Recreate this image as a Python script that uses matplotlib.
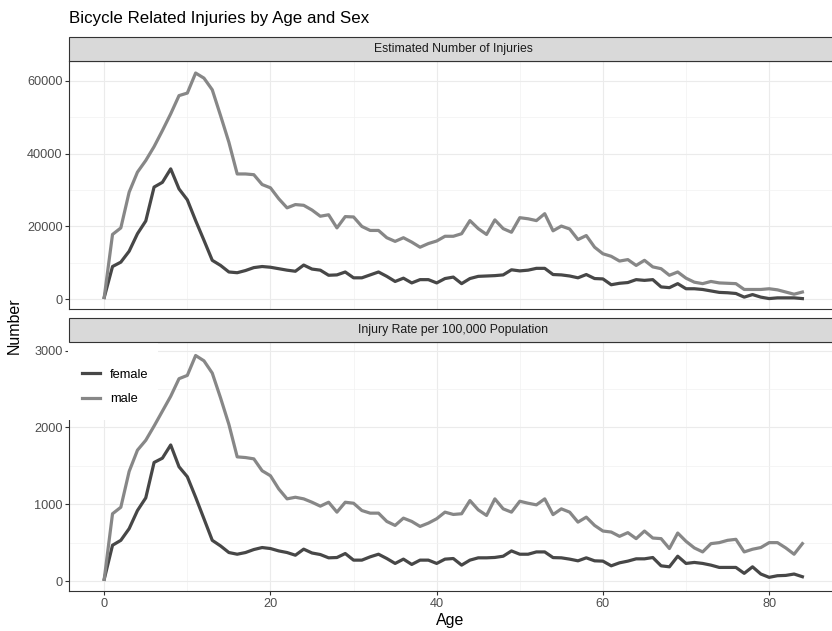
import matplotlib
matplotlib.use("Agg")
import matplotlib.pyplot as plt
from matplotlib.patches import Rectangle
from matplotlib.lines import Line2D
from matplotlib.ticker import MultipleLocator

plt.rcParams['font.family'] = ['Liberation Sans', 'DejaVu Sans']

ages = list(range(0, 85))

number_female = [500, 9000, 10200, 13200, 18000, 21500, 30800, 32100, 35800, 30300,
                 27300, 21600, 16200, 10700, 9300, 7500, 7300, 7900, 8700, 9000,
                 8800, 8400, 8000, 7700, 9400, 8300, 8000, 6600, 6700, 7500,
                 5900, 5900, 6700, 7500, 6300, 4900, 5800, 4500, 5400, 5400,
                 4500, 5700, 6100, 4300, 5700, 6300, 6400, 6500, 6700, 8100,
                 7800, 8000, 8500, 8500, 6800, 6700, 6400, 5900, 6800, 5700,
                 5600, 4000, 4400, 4600, 5400, 5200, 5400, 3400, 3200, 4300,
                 2900, 2900, 2700, 2300, 1900, 1800, 1600, 600, 1300, 600,
                 200, 400, 400, 400, 200]
number_male = [500, 17800, 19600, 29400, 34900, 38100, 41900, 46300, 50900, 55900,
               56600, 62100, 60700, 57500, 50400, 43100, 34400, 34400, 34200, 31500,
               30600, 27600, 25100, 26000, 25800, 24500, 22800, 23200, 19600, 22700,
               22600, 20000, 18900, 18900, 16900, 15900, 16900, 15700, 14300, 15300,
               16000, 17300, 17300, 18000, 21600, 19400, 17800, 21800, 19400, 18400,
               22400, 22100, 21600, 23500, 18800, 20100, 19300, 16400, 17500, 14300,
               12500, 11800, 10500, 10900, 9300, 10700, 8900, 8400, 6600, 7500,
               5800, 4700, 4300, 4900, 4500, 4400, 4300, 2700, 2700, 2700,
               2900, 2600, 2000, 1400, 2000]
rate_female = [22, 466, 530, 682, 918, 1083, 1544, 1600, 1772, 1488,
               1358, 1091, 811, 530, 457, 371, 349, 371, 410, 436,
               423, 392, 371, 336, 415, 365, 345, 302, 306, 358,
               272, 272, 315, 349, 293, 229, 285, 216, 272, 272,
               229, 285, 293, 207, 272, 302, 302, 307, 323, 392,
               349, 349, 379, 379, 305, 302, 285, 263, 302, 263,
               259, 198, 237, 259, 289, 289, 306, 198, 185, 323,
               229, 242, 229, 207, 177, 177, 177, 100, 185, 91,
               48, 69, 73, 91, 56]
rate_male = [22, 876, 961, 1427, 1704, 1833, 2018, 2212, 2406, 2635,
             2678, 2937, 2868, 2708, 2384, 2040, 1617, 1608, 1591, 1436,
             1371, 1199, 1070, 1091, 1070, 1026, 975, 1026, 897, 1026,
             1013, 918, 884, 884, 776, 724, 819, 776, 711, 754,
             811, 897, 867, 876, 1048, 927, 854, 1070, 940, 897,
             1039, 1013, 992, 1070, 865, 940, 897, 767, 832, 724,
             651, 638, 582, 630, 552, 651, 560, 552, 423, 625,
             517, 431, 379, 487, 500, 530, 543, 379, 414, 436,
             500, 500, 431, 349, 487]

title = "Bicycle Related Injuries by Age and Sex"
strip_titles = ["Estimated Number of Injuries", "Injury Rate per 100,000 Population"]
sexes = ["female", "male"]
colors = {"female": "#474747", "male": "#878787"}
x_ticks = [0, 20, 40, 60, 80]
y_ticks_top = [0, 20000, 40000, 60000]
y_ticks_bot = [0, 1000, 2000, 3000]

W, H = 832, 631
fig = plt.figure(figsize=(W / 100, H / 100), dpi=100)
fig.patch.set_facecolor("white")

L, R = 69.3, 837.3
panels = [(61.0, 309.3), (342.3, 591.0)]
strips = [(36.7, 61.0), (318.3, 342.3)]


def make_ax(top, bot):
    return fig.add_axes([L / W, 1 - bot / H, (R - L) / W, (bot - top) / H])


ax1 = make_ax(*panels[0])
ax2 = make_ax(*panels[1])

lw = 2.3
ax1.plot(ages, number_female, color=colors["female"], lw=lw, solid_joinstyle="round", zorder=3)
ax1.plot(ages, number_male, color=colors["male"], lw=lw, solid_joinstyle="round", zorder=3)
ax2.plot(ages, rate_female, color=colors["female"], lw=lw, solid_joinstyle="round", zorder=3)
ax2.plot(ages, rate_male, color=colors["male"], lw=lw, solid_joinstyle="round", zorder=3)

ax1.set_ylim(-2740, 65400)
ax2.set_ylim(-130, 3109)

for ax, yt, minor in [(ax1, y_ticks_top, 10000), (ax2, y_ticks_bot, 500)]:
    ax.set_xlim(-4.2, 88.2)
    ax.set_xticks(x_ticks)
    ax.xaxis.set_minor_locator(MultipleLocator(10))
    ax.set_yticks(yt)
    ax.yaxis.set_minor_locator(MultipleLocator(minor))
    ax.grid(which="major", color="#EBEBEB", lw=0.8, zorder=0)
    ax.grid(which="minor", color="#F2F2F2", lw=0.5, zorder=0)
    ax.set_axisbelow(True)
    for s in ax.spines.values():
        s.set_color("#333333")
        s.set_linewidth(0.8)
    ax.tick_params(which="major", length=2.8, width=0.8, color="#333333",
                   labelsize=9.2, labelcolor="#4D4D4D", pad=2)
    ax.tick_params(which="minor", length=0)
    ax.set_yticklabels([str(v) for v in yt])

ax1.tick_params(axis="x", which="both", bottom=False, labelbottom=False)
ax2.set_xticklabels([str(v) for v in x_ticks])

# strips
for (top, bot), txt in zip(strips, strip_titles):
    fig.patches.append(Rectangle((L / W, 1 - bot / H), (R - L) / W, (bot - top) / H,
                                 transform=fig.transFigure, facecolor="#D9D9D9",
                                 edgecolor="#333333", lw=0.8))
    fig.text((L + R) / 2 / W, 1 - (top + bot) / 2 / H, txt, ha="center", va="center",
             fontsize=8.8, color="#1A1A1A")

# legend background covering panel corner
ax2.add_patch(Rectangle((-0.0012, 0.6876), 0.1167, 0.32, transform=ax2.transAxes,
                        facecolor="white", edgecolor="none", zorder=2.7, clip_on=False))
handles = [Line2D([], [], color=colors[s], lw=lw) for s in sexes]
leg = ax2.legend(handles, sexes, loc="upper left", bbox_to_anchor=(0.0, 0.945),
                 frameon=False, fontsize=9.3, handlelength=1.4, handletextpad=0.75,
                 labelspacing=0.95, borderaxespad=0.6)
leg.set_zorder(5)

fig.text(L / W, 1 - 18 / H, title, ha="left", va="center", fontsize=12.2, color="black")
fig.text(14 / W, 1 - 326 / H, "Number", rotation=90, ha="center", va="center",
         fontsize=11.5, color="black")
fig.text(450 / W, 1 - 621 / H, "Age", ha="center", va="center", fontsize=11.5, color="black")

fig.savefig("out.png", dpi=100)
